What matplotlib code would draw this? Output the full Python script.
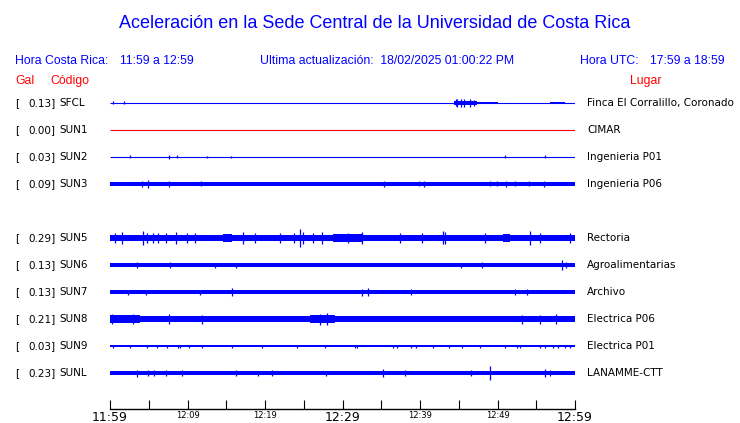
import matplotlib
matplotlib.use('Agg')
import matplotlib.pyplot as plt

# ---------------- data ----------------
codes = ['SFCL', 'SUN1', 'SUN2', 'SUN3', 'SUN5', 'SUN6', 'SUN7', 'SUN8', 'SUN9', 'SUNL']
gal = [0.13, 0.00, 0.03, 0.09, 0.29, 0.13, 0.13, 0.21, 0.03, 0.23]
places = ['Finca El Corralillo, Coronado', 'CIMAR', 'Ingenieria P01', 'Ingenieria P06',
          'Rectoria', 'Agroalimentarias', 'Archivo', 'Electrica P06', 'Electrica P01',
          'LANAMME-CTT']
active = [True, False, True, True, True, True, True, True, True, True]

# trace envelope (half amplitude, px)
base_amp = [0.5, 0.5, 0.5, 2.0, 3.3, 1.6, 1.6, 3.0, 0.7, 2.0]
# bursts: (start minute, end minute, half amplitude px)
bursts = {
    'SFCL': [(44.4, 47.4, 2.4), (47.4, 50.1, 1.3), (56.8, 58.7, 1.3)],
    'SUN5': [(14.6, 15.7, 3.7), (28.8, 32.6, 3.8), (50.7, 51.6, 3.7)],
    'SUN8': [(0.0, 3.9, 3.7), (25.8, 29.0, 3.7), (49.0, 60.0, 3.3)],
    'SUN9': [(1.9, 3.2, 1.3)],
}
# spikes: (minute, half amplitude px)
spikes = {
    'SFCL': [(0.39, 1.5), (1.81, 1.5), (44.6, 3.5), (44.8, 4.2), (45.3, 3.6), (45.7, 4.0), (46.4, 3.8),
             (47.0, 3.2)],
    'SUN2': [(2.6, 1.5), (7.6, 2.0), (8.6, 1.5), (12.5, 1.2), (15.6, 1.2), (51.0, 1.5), (56.1, 1.5)],
    'SUN3': [(4.1, 3.0), (4.9, 4.0), (7.6, 3.0), (11.7, 2.5), (35.4, 3.0), (39.9, 2.5), (40.5, 3.0),
             (49.0, 2.5), (49.9, 2.5), (51.1, 3.0), (52.3, 2.5), (54.1, 2.5), (56.0, 3.0)],
    'SUN5': [(0.65, 5.0), (1.5, 6.0), (4.2, 7.0), (4.8, 4.5), (5.5, 4.5), (6.2, 4.5), (7.2, 5.0),
             (8.5, 6.0), (9.9, 4.5), (11.0, 4.5), (17.2, 6.0), (18.7, 4.5), (21.9, 4.5), (23.7, 5.0),
             (24.5, 9.0), (24.9, 6.0), (26.2, 5.0), (27.3, 6.0), (30.7, 5.5), (32.5, 6.0), (37.4, 4.5),
             (40.2, 4.5), (43.0, 6.5), (43.2, 6.0), (48.4, 4.5), (54.2, 7.0), (55.5, 5.0), (59.4, 5.5)],
    'SUN6': [(3.5, 3.0), (7.7, 3.0), (13.5, 2.5), (16.3, 2.5), (45.3, 2.5), (48.0, 3.0), (58.3, 5.0),
             (58.9, 3.0)],
    'SUN7': [(2.3, 2.5), (4.7, 2.5), (11.6, 2.5), (15.8, 4.0), (32.5, 3.5), (33.3, 4.0), (38.9, 3.0),
             (52.3, 3.0), (53.8, 3.0)],
    'SUN8': [(0.26, 5.0), (3.0, 5.0), (7.6, 5.0), (11.9, 4.5), (27.1, 5.5), (28.0, 6.0), (53.1, 4.5),
             (55.5, 4.5), (57.5, 5.0)],
    'SUN9': [(0.39, 1.5), (2.58, 1.5), (4.77, 1.5), (6.06, 1.5), (7.35, 1.5), (8.77, 1.5), (9.03, 1.5),
             (10.19, 1.5), (11.87, 1.5), (15.74, 1.5), (19.61, 1.5), (24.13, 1.5), (27.74, 1.5),
             (31.61, 1.5), (31.87, 1.5), (36.52, 1.5), (37.03, 1.5), (38.84, 1.5), (39.48, 1.5),
             (41.68, 1.5), (43.74, 1.5), (45.42, 1.5), (47.74, 1.5), (50.97, 1.5), (52.52, 1.5),
             (52.90, 1.5), (55.48, 1.5), (56.13, 1.5), (57.16, 1.5), (57.81, 1.5), (58.71, 1.5),
             (59.35, 1.5)],
    'SUNL': [(3.5, 3.5), (4.9, 3.0), (5.7, 3.0), (7.2, 3.0), (9.3, 3.0), (16.3, 3.0), (19.1, 2.5),
             (20.9, 3.0), (27.9, 2.5), (35.2, 4.0), (38.1, 3.0), (46.6, 3.0), (49.0, 7.0), (56.1, 4.0),
             (56.8, 3.0)],
}
tick_minutes = list(range(0, 61, 5))
tick_labels = ['11:59', '', '12:09', '', '12:19', '', '12:29', '', '12:39', '', '12:49', '', '12:59']
big_labels = ['11:59', '12:29', '12:59']

title = 'Aceleración en la Sede Central de la Universidad de Costa Rica'
hora_cr = '11:59 a 12:59'
actualizacion = 'Ultima actualización:  18/02/2025 01:00:22 PM'
hora_utc = '17:59 a 18:59'

# ---------------- layout ----------------
W, H = 740, 423
BLUE = '#0000ff'
RED = '#ff0000'
rows = [0, 1, 2, 3, 5, 6, 7, 8, 9, 10]
ROW0, DY = 103, 27  # pixel position of first row, row spacing
X0, X1 = 110, 575

fig = plt.figure(figsize=(W / 100, H / 100), dpi=100)
fig.patch.set_facecolor('white')


def fx(px):
    return px / W


def fy(py):
    return 1 - py / H


ax = fig.add_axes([fx(X0), 0, (X1 - X0) / W, 1])
ax.set_xlim(0, 60)
ax.set_ylim((H - ROW0) / DY, -ROW0 / DY)
ax.axis('off')

for k, code in enumerate(codes):
    y0 = rows[k]
    col = BLUE if active[k] else RED
    a = base_amp[k] / DY
    if base_amp[k] <= 0.5:
        ax.plot([0, 60], [y0, y0], color=col, lw=0.8, solid_capstyle='butt')
    else:
        ax.fill_between([0, 60], y0 - a, y0 + a, color=col, lw=0)
    for (s, e, amp) in bursts.get(code, []):
        ax.fill_between([s, e], y0 - amp / DY, y0 + amp / DY, color=col, lw=0)
    for (t, amp) in spikes.get(code, []):
        ax.vlines(t, y0 - amp / DY, y0 + amp / DY, color=col, lw=0.9)

# time axis
tax = fig.add_axes([fx(X0), fy(409), (X1 - X0) / W, 0.0001])
tax.set_xlim(0, 60)
tax.set_yticks([])
for s in ['top', 'left', 'right']:
    tax.spines[s].set_visible(False)
tax.spines['bottom'].set_linewidth(1.0)
tax.set_xticks(tick_minutes)
tax.set_xticklabels(tick_labels, family='DejaVu Sans')
tax.tick_params(axis='x', direction='in', length=6.5, width=0.8, pad=1.5)
for lab in tax.get_xticklabels():
    lab.set_fontsize(9 if lab.get_text() in big_labels else 6)
tax.patch.set_alpha(0)

# texts
SANS = 'Liberation Sans'
fig.text(fx(375), fy(23), title, color=BLUE, fontsize=13, family=SANS, ha='center', va='center')
fig.text(fx(15), fy(61), 'Hora Costa Rica:', color=BLUE, fontsize=8.8, family=SANS, va='center')
fig.text(fx(120), fy(61), hora_cr, color=BLUE, fontsize=8.8, family=SANS, va='center')
fig.text(fx(260), fy(61), actualizacion, color=BLUE, fontsize=8.8, family=SANS, va='center')
fig.text(fx(580), fy(61), 'Hora UTC:', color=BLUE, fontsize=8.8, family=SANS, va='center')
fig.text(fx(650), fy(61), hora_utc, color=BLUE, fontsize=8.8, family=SANS, va='center')
fig.text(fx(15), fy(81), 'Gal', color=RED, fontsize=8.8, family=SANS, va='center')
fig.text(fx(50), fy(81), 'Código', color=RED, fontsize=8.8, family=SANS, va='center')
fig.text(fx(630), fy(81), 'Lugar', color=RED, fontsize=8.8, family=SANS, va='center')

for k, code in enumerate(codes):
    py = ROW0 + DY * rows[k]
    fig.text(fx(15), fy(py), '[', fontsize=7.5, family='DejaVu Sans', va='center')
    fig.text(fx(28), fy(py), f'{gal[k]:.2f}]', fontsize=7.5, family='DejaVu Sans', va='center')
    fig.text(fx(59), fy(py), code, fontsize=7.5, family='DejaVu Sans', va='center')
    fig.text(fx(587), fy(py), places[k], fontsize=7.5, family='DejaVu Sans', va='center')

fig.savefig('out.png', dpi=100, facecolor='white')
